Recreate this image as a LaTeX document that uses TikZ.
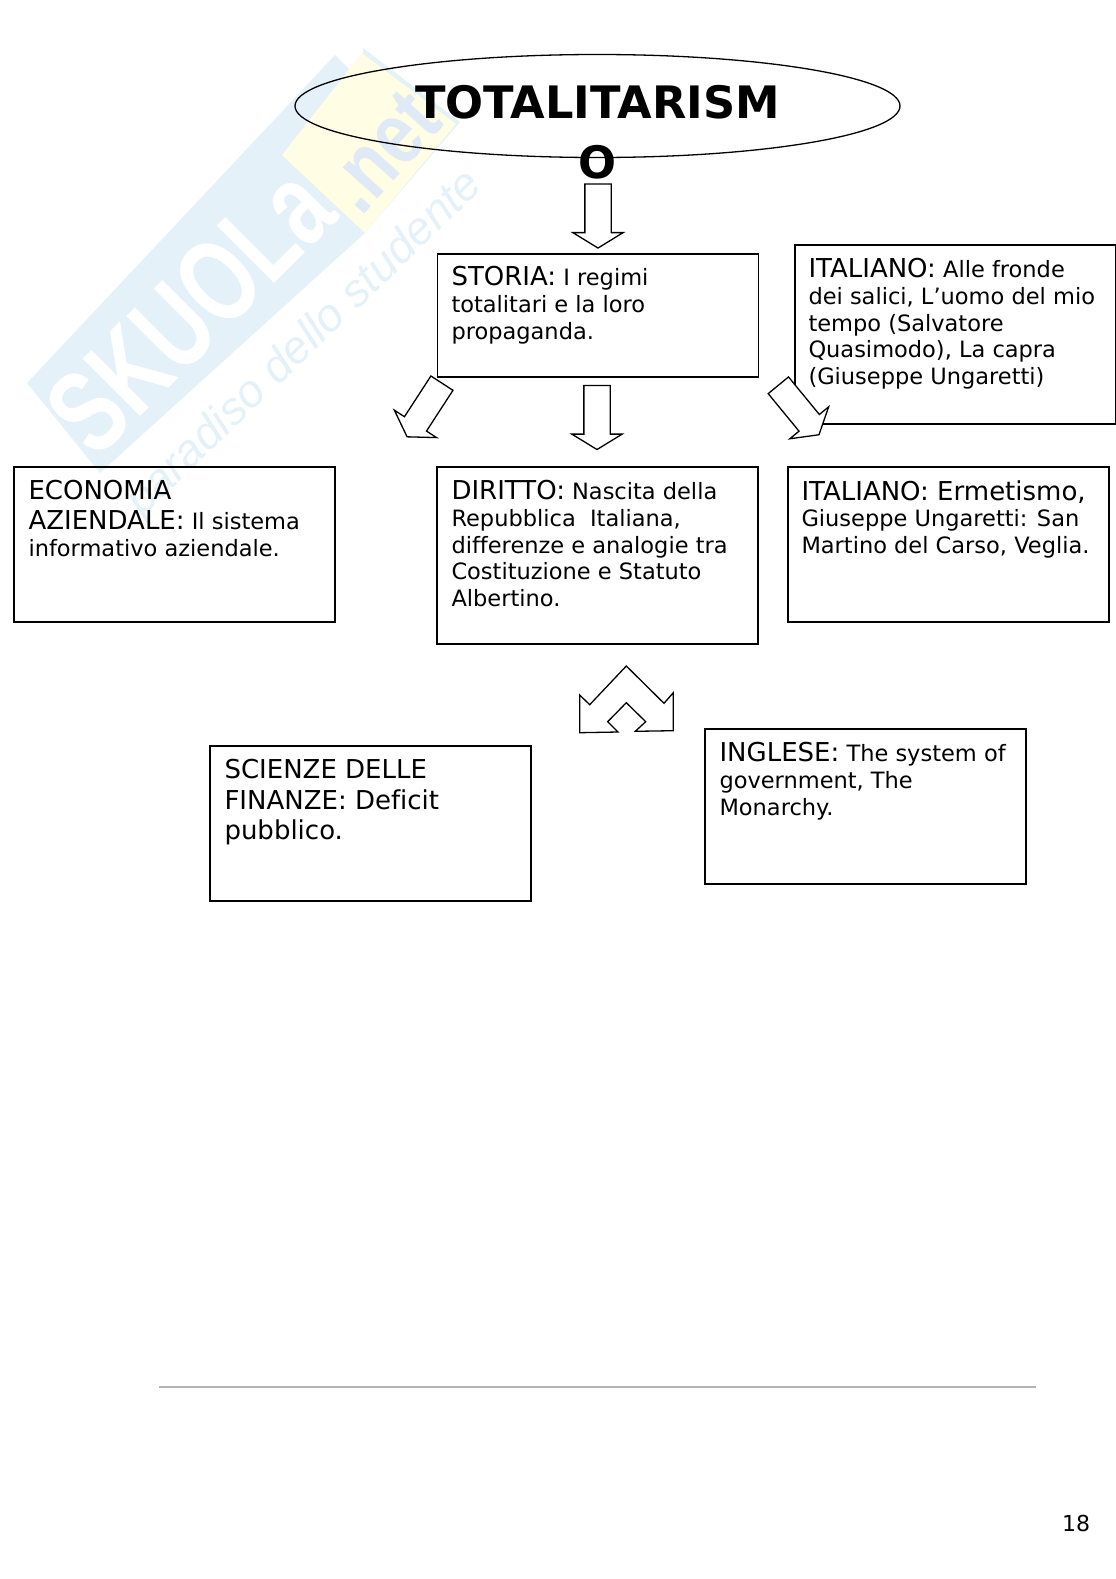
\documentclass[tikz,border=0pt]{standalone}
\usepackage{fontspec}
\setmainfont[Ligatures=NoCommon]{DejaVu Sans}
\newfontfamily\markfont{Liberation Sans}
\usetikzlibrary{calc}
\usetikzlibrary{shapes.arrows}
\usetikzlibrary{shapes.geometric}
\definecolor{markblue}{HTML}{E5F1F8}
\definecolor{markyellow}{HTML}{FFFDE3}
\definecolor{netblue}{HTML}{DFEAF6}
\newcommand{\hd}[1]{{\fontsize{26}{30}\selectfont #1}}
\tikzset{box/.style={draw=black,line width=1.4pt,rectangle,minimum width=321pt,inner sep=0pt}}
\tikzset{boxtext/.style={anchor=north west,inner sep=0pt,align=left,font=\fontsize{22.5}{26.6}\selectfont}}
\tikzset{down/.style={draw=black,fill=white,line width=1.3pt,single arrow,inner xsep=0pt,inner ysep=12.5pt,minimum height=64pt,single arrow head extend=12pt,single arrow tip angle=117}}

\begin{document}
\begin{tikzpicture}[x=1pt,y=-1pt]
\useasboundingbox (0,0) rectangle (1116,1579);

%watermark
\fill[markblue] (27,383)--(335,55)--(370,90)--(365,233)--(100,473)--cycle;
\fill[markblue] (363,48)--(460,122)--(365,233)--cycle;
\fill[markyellow] (282,155)--(362,53)--(456,124)--(365,233)--cycle;
\node[white,rotate=45,xscale=.72](mark) at (190,310){\markfont\bfseries\fontsize{118}{118}\selectfont SKUOLa};
\node[netblue,rotate=48,xscale=.8](net) at (382,152){\markfont\bfseries\fontsize{88}{88}\selectfont .net};
\node[markblue,rotate=44](slogan) at (305,344){\markfont\itshape\fontsize{46}{46}\selectfont paradiso dello studente};

\node[ellipse,draw=black,line width=1.3pt,inner sep=0pt,minimum width=605pt,minimum height=103pt](title) at (597.5,106){};
\node[align=center,inner sep=0pt,font=\bfseries\fontsize{44.7}{60}\selectfont](titletext) at (597.5,132.5){TOTALITARISM\\O};

\node[box,minimum height=123pt](storia) at (598,315.5){};
\node[box,minimum height=179pt](poesie) at (955.5,334.5){};
\node[box,minimum height=155pt](economia) at (174.5,544.5){};
\node[box,minimum height=177pt](diritto) at (597.5,555.5){};
\node[box,minimum height=155pt](ermetismo) at (948.5,544.5){};
\node[box,minimum height=155pt](finanze) at (370.5,823.5){};
\node[box,minimum height=155pt](inglese) at (865.5,806.5){};

\node[boxtext](storiatext) at ($(storia.north west)+(14.5,13)$){\hd{STORIA:} I regimi\\totalitari e la loro\\propaganda.};
\node[boxtext](poesietext) at ($(poesie.north west)+(14,14)$){\hd{ITALIANO:} Alle fronde\\dei salici, L’uomo del mio\\tempo (Salvatore\\Quasimodo), La capra\\(Giuseppe Ungaretti)};
\node[boxtext](economiatext) at ($(economia.north west)+(15,14)$){\hd{ECONOMIA}\\[3.5pt]\hd{AZIENDALE:} Il sistema\\informativo aziendale.};
\node[boxtext](dirittotext) at ($(diritto.north west)+(15,14)$){\hd{DIRITTO:} Nascita della\\Repubblica\ \ Italiana,\\differenze e analogie tra\\Costituzione e Statuto\\Albertino.};
\node[boxtext](ermetismotext) at ($(ermetismo.north west)+(14,14)$){\hd{ITALIANO: Ermetismo,}\\Giuseppe Ungaretti: San\\Martino del Carso, Veglia.};
\node[boxtext,font=\fontsize{26}{30.2}\selectfont](finanzetext) at ($(finanze.north west)+(15,14)$){SCIENZE DELLE\\FINANZE: Deficit\\pubblico.};
\node[boxtext](ingletext) at ($(inglese.north west)+(15,14)$){\hd{INGLESE:} The system of\\government, The\\Monarchy.};

\node[down,rotate=-90](a1) at (598,212){};
\node[down,rotate=-90](a2) at (597,413.5){};
\node[down,rotate=-123](a3) at (426.7,406.6){};
\node[down,rotate=-50.6](a4) at (796.1,406.9){};

%double arrow
\draw[line width=1.3pt,line join=miter] (626.3,666)--(664,703.3)--(673.3,692.7)--(673.3,730.7)--(635.3,731.3)--(645.7,721.7)--(626.3,702.7)--(607.7,721.7)--(618,732)--(579.7,732.7)--(579.7,695)--(589.7,704.7)--cycle;

\coordinate (ruleA) at (159,1387);
\coordinate (ruleB) at (1036,1387);
\draw[line width=2pt,color=black!30] (ruleA)--(ruleB);

\node[inner sep=0pt,font=\fontsize{22}{26}\selectfont](pagenr) at (1076,1523){18};
\end{tikzpicture}
\end{document}
